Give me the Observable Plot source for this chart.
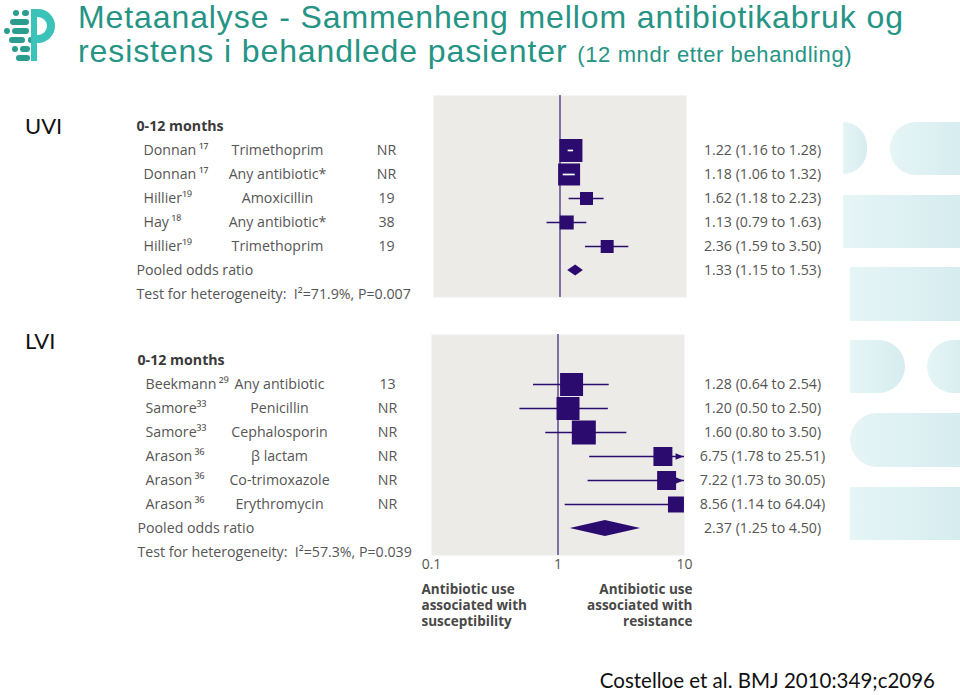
<!DOCTYPE html>
<html>
<head>
<meta charset="utf-8">
<script src="https://cdn.jsdelivr.net/npm/d3@7"></script>
<script src="https://cdn.jsdelivr.net/npm/@observablehq/plot@0.6"></script>
<style>
  html, body { margin: 0; padding: 0; background: #fff; }
  #page { position: relative; width: 960px; height: 695px; overflow: hidden; background: #fff; font-family: Lato, "Liberation Sans", sans-serif; }
  .deco { position: absolute; background: linear-gradient(90deg, #e6f5f6, #d6ecef); }
  .logo { position: absolute; border-radius: 4px; }
  .ttl { position: absolute; left: 78px; font-family: "Liberation Sans", Arial, sans-serif; font-size: 32px; line-height: 32px; letter-spacing: 0.9px; color: #259485; white-space: nowrap; }
</style>
</head>
<body>
<div id="page">
  <!-- logo -->
  <div class="logo" style="left:13px;top:10px;width:6px;height:6px;border-radius:50%;background:#2a9d8f"></div>
  <div class="logo" style="left:22px;top:10px;width:7px;height:6px;background:#2a9d8f"></div>
  <div class="logo" style="left:10px;top:19px;width:19px;height:6px;background:#2a9d8f"></div>
  <div class="logo" style="left:4px;top:28px;width:6px;height:6px;border-radius:50%;background:#2a9d8f"></div>
  <div class="logo" style="left:12px;top:28px;width:17px;height:6px;background:#2a9d8f"></div>
  <div class="logo" style="left:9px;top:37px;width:16px;height:6px;background:#2a9d8f"></div>
  <div class="logo" style="left:28px;top:37px;width:5px;height:6px;border-radius:50%;background:#2a9d8f"></div>
  <div class="logo" style="left:12px;top:46px;width:6px;height:6px;border-radius:50%;background:#2a9d8f"></div>
  <div class="logo" style="left:20px;top:46px;width:10px;height:6px;background:#2a9d8f"></div>
  <div class="logo" style="left:16px;top:55px;width:14px;height:6px;background:#2a9d8f"></div>
  <div class="logo" style="left:31px;top:9px;width:24px;height:34px;border-radius:0 18px 18px 0;border:8px solid #3cc3b9;border-left:0;box-sizing:border-box;background:transparent"></div>
  <div class="logo" style="left:31px;top:9px;width:6px;height:52px;border-radius:0;background:#3cc3b9"></div>

  <!-- right decorations -->
  <div class="deco" style="left:843px;top:122px;width:24px;height:52px;border-radius:0 26px 26px 0"></div>
  <div class="deco" style="left:890px;top:122px;width:75px;height:53px;border-radius:26px 0 0 26px"></div>
  <div class="deco" style="left:843px;top:195px;width:120px;height:53px"></div>
  <div class="deco" style="left:850px;top:267px;width:115px;height:54px"></div>
  <div class="deco" style="left:850px;top:340px;width:55px;height:53px;border-radius:0 27px 27px 0"></div>
  <div class="deco" style="left:927px;top:340px;width:40px;height:53px;border-radius:27px 0 0 27px"></div>
  <div class="deco" style="left:850px;top:413px;width:115px;height:54px;border-radius:27px 0 0 27px"></div>
  <div class="deco" style="left:850px;top:487px;width:115px;height:53px"></div>

  <div class="ttl" style="top:1px">Metaanalyse - Sammenheng mellom antibiotikabruk og</div>
  <div class="ttl" style="top:35px">resistens i behandlede pasienter <span style="font-size:22px;letter-spacing:0.6px">(12 mndr etter behandling)</span></div>

  <div style="position:absolute;left:25px;top:112px;font-family:Lato,sans-serif;font-size:22px;color:#111">UVI</div>
  <div style="position:absolute;left:25px;top:327px;font-family:Lato,sans-serif;font-size:22px;color:#111">LVI</div>

  <div id="top" style="position:absolute;left:0;top:90px"></div>
  <div id="bot" style="position:absolute;left:0;top:300px"></div>

  <div style="position:absolute;right:25px;top:668px;font-family:Lato,sans-serif;font-size:20.5px;color:#111;white-space:nowrap">Costelloe et al. BMJ 2010:349;c2096</div>
</div>
<script>
// ---------- data ----------
const sectionLabel = "0-12 months";
const pooledLabel = "Pooled odds ratio";

const uviStudies = ["Donnan\u2009\u00B9\u2077", "Donnan\u2009\u00B9\u2077", "Hillier\u00B9\u2079", "Hay\u2009\u00B9\u2078", "Hillier\u00B9\u2079"];
const uviDrugs = ["Trimethoprim", "Any antibiotic*", "Amoxicillin", "Any antibiotic*", "Trimethoprim"];
const uviN = ["NR", "NR", "19", "38", "19"];
const uviOR = [1.22, 1.18, 1.62, 1.13, 2.36];
const uviLo = [1.16, 1.06, 1.18, 0.79, 1.59];
const uviHi = [1.28, 1.32, 2.23, 1.63, 3.50];
const uviWeight = [34.2, 31.3, 10.9, 12.7, 10.9];
const uviPooled = [1.33, 1.15, 1.53];
const uviHet = "Test for heterogeneity:  I\u00B2=71.9%, P=0.007";

const lviStudies = ["Beekmann\u2009\u00B2\u2079", "Samore\u00B3\u00B3", "Samore\u00B3\u00B3", "Arason\u2009\u00B3\u2076", "Arason\u2009\u00B3\u2076", "Arason\u2009\u00B3\u2076"];
const lviDrugs = ["Any antibiotic", "Penicillin", "Cephalosporin", "\u03B2 lactam", "Co-trimoxazole", "Erythromycin"];
const lviN = ["13", "NR", "NR", "NR", "NR", "NR"];
const lviOR = [1.28, 1.20, 1.60, 6.75, 7.22, 8.56];
const lviLo = [0.64, 0.50, 0.80, 1.78, 1.73, 1.14];
const lviHi = [2.54, 2.50, 3.50, 25.51, 30.05, 64.04];
const lviWeight = [20.3, 20.3, 22.1, 13.8, 13.8, 9.8];
const lviPooled = [2.37, 1.25, 4.50];
const lviHet = "Test for heterogeneity:  I\u00B2=57.3%, P=0.039";

const xTicks = [0.1, 1, 10];
const xTickLabels = ["0.1", "1", "10"];
const leftFoot = "Antibiotic use\nassociated with\nsusceptibility";
const rightFoot = "Antibiotic use\nassociated with\nresistance";

// ---------- style ----------
const NAVY = "#2b0c6e";
const GRAY = "#ecebe8";
const TXT = "#555555";
const FONT = "'Open Sans', 'Noto Sans', 'DejaVu Sans', sans-serif";
const FS = 14.2;
const xMin = xTicks[0], xMax = xTicks[xTicks.length - 1];

const rightArrow = {
  draw(ctx, size) {
    const r = Math.sqrt(size / Math.PI);
    ctx.moveTo(0, 0);
    ctx.lineTo(-2.4 * r, -r);
    ctx.lineTo(-2.4 * r, r);
    ctx.closePath();
  }
};

function forest(cfg) {
  const rows = cfg.studies.map((s, k) => ({
    i: k + 1, study: s, drug: cfg.drugs[k], n: cfg.ns[k],
    or: cfg.or[k], lo: cfg.lo[k], hi: cfg.hi[k], w: cfg.w[k]
  }));
  const nRows = rows.length;
  const pooled = {i: nRows + 1, or: cfg.pooled[0], lo: cfg.pooled[1], hi: cfg.pooled[2]};
  const hetRow = nRows + 2;
  const fmt = d => `${d.or.toFixed(2)} (${d.lo.toFixed(2)} to ${d.hi.toFixed(2)})`;

  const plotW = 960 - cfg.mL - cfg.mR;
  const pxPerDecade = plotW / Math.log10(xMax / xMin);
  const wMax = d3.max(cfg.w);
  const side = d => cfg.maxSide * Math.sqrt(d.w / wMax);
  const inside = d => Math.log10(d.hi / d.lo) * pxPerDecade < side(d) - 4;

  const diamond = [
    {x: pooled.lo, y1: pooled.i, y2: pooled.i},
    {x: pooled.or, y1: pooled.i - cfg.dh, y2: pooled.i + cfg.dh},
    {x: pooled.hi, y1: pooled.i, y2: pooled.i}
  ];

  const txt = {fontFamily: FONT, fontSize: FS, fill: TXT};

  const marks = [
    Plot.frame({fill: GRAY, stroke: "none"}),
    Plot.ruleX([1], {stroke: NAVY, strokeWidth: 1.1}),
    Plot.ruleY(rows, {y: "i", x1: "lo", x2: d => Math.min(d.hi, xMax), stroke: NAVY, strokeWidth: 1.7}),
    Plot.dot(rows, {x: "or", y: "i", r: "w", symbol: "square", fill: NAVY, stroke: "none"}),
    Plot.ruleY(rows.filter(inside), {y: "i", x1: "lo", x2: "hi", stroke: "white", strokeWidth: 1.7}),
    Plot.dot(rows.filter(d => d.hi > xMax), {x: () => xMax, y: "i", r: 3.3, symbol: rightArrow, fill: NAVY, stroke: "none", dx: -1}),
    Plot.areaY(diamond, {x: "x", y1: "y1", y2: "y2", fill: NAVY}),
    // left columns
    Plot.text([sectionLabel], {y: () => 0, text: d => d, frameAnchor: "left", textAnchor: "start", dx: cfg.dxHead, ...txt, fill: "#3a3a3a", fontWeight: "bold"}),
    Plot.text(rows, {y: "i", text: "study", frameAnchor: "left", textAnchor: "start", dx: cfg.dxStudy, ...txt}),
    Plot.text(rows, {y: "i", text: "drug", frameAnchor: "left", textAnchor: "middle", dx: cfg.dxDrug, ...txt}),
    Plot.text(rows, {y: "i", text: "n", frameAnchor: "left", textAnchor: "middle", dx: cfg.dxN, ...txt}),
    Plot.text([pooledLabel], {y: () => pooled.i, text: d => d, frameAnchor: "left", textAnchor: "start", dx: cfg.dxHead, ...txt}),
    Plot.text([cfg.het], {y: () => hetRow, text: d => d, frameAnchor: "left", textAnchor: "start", dx: cfg.dxHead, ...txt}),
    // right column
    Plot.text([...rows, pooled], {y: "i", text: fmt, frameAnchor: "right", textAnchor: "middle", dx: cfg.dxRight, ...txt})
  ];

  if (cfg.axis) {
    marks.push(
      Plot.text(xTicks, {x: d => d, text: (d, k) => xTickLabels[k], frameAnchor: "bottom", lineAnchor: "top", dy: 4, ...txt, fontSize: 14}),
      Plot.text([leftFoot], {text: d => d, frameAnchor: "bottom-left", textAnchor: "start", lineAnchor: "top", dx: -10, dy: 27, lineHeight: 1.2, fontFamily: FONT, fontSize: 13.5, fontWeight: "bold", fill: "#484848"}),
      Plot.text([rightFoot], {text: d => d, frameAnchor: "bottom-right", textAnchor: "end", lineAnchor: "top", dx: 8, dy: 27, lineHeight: 1.2, fontFamily: FONT, fontSize: 13.5, fontWeight: "bold", fill: "#484848"})
    );
  }

  return Plot.plot({
    width: 960,
    height: cfg.height,
    marginLeft: cfg.mL,
    marginRight: cfg.mR,
    marginTop: cfg.mT,
    marginBottom: cfg.mB,
    style: {background: "transparent", overflow: "visible"},
    x: {type: "log", domain: [xMin, xMax], axis: null},
    y: {type: "linear", domain: cfg.yDomain, reverse: true, axis: null},
    r: {type: "sqrt", domain: [0, wMax], range: [0, cfg.maxSide / Math.sqrt(Math.PI)]},
    marks
  });
}

document.getElementById("top").appendChild(forest({
  studies: uviStudies, drugs: uviDrugs, ns: uviN, or: uviOR, lo: uviLo, hi: uviHi, w: uviWeight,
  pooled: uviPooled, het: uviHet,
  height: 215, mT: 5, mB: 8, mL: 433, mR: 274,
  yDomain: [-1.29, 7.125], maxSide: 23, dh: 0.23,
  dxHead: -297, dxStudy: -290, dxDrug: -156, dxN: -47, dxRight: 76, axis: false
}));

document.getElementById("bot").appendChild(forest({
  studies: lviStudies, drugs: lviDrugs, ns: lviN, or: lviOR, lo: lviLo, hi: lviHi, w: lviWeight,
  pooled: lviPooled, het: lviHet,
  height: 340, mT: 34, mB: 85, mL: 431, mR: 276,
  yDomain: [-1.083, 8.125], maxSide: 24, dh: 0.33,
  dxHead: -294, dxStudy: -286, dxDrug: -152, dxN: -44, dxRight: 78, axis: true
}));
</script>
</body>
</html>
